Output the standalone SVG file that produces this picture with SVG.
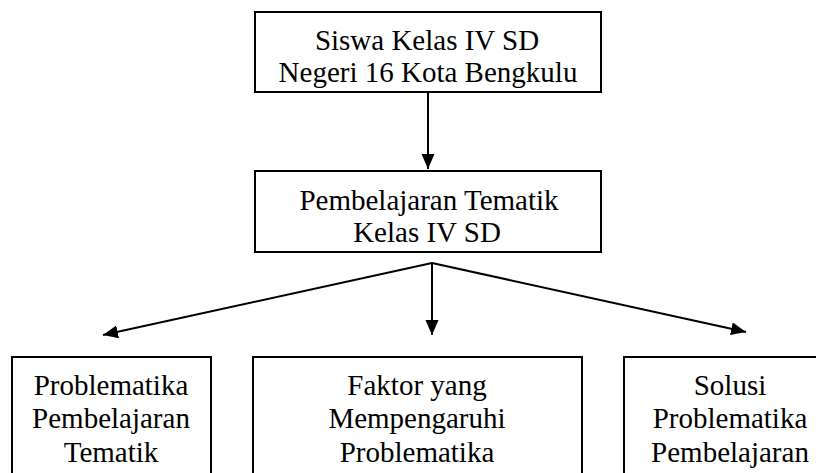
<svg xmlns="http://www.w3.org/2000/svg" width="816" height="473" viewBox="0 0 816 473">
<style>
.box{fill:#fff;stroke:#000;stroke-width:2}
.t{font-family:'Liberation Serif','Tinos','DejaVu Serif',serif;font-size:29px;fill:#000;text-anchor:middle}
.c{stroke:#000;stroke-width:2;fill:none}
</style>
<defs>
<marker id="ah" markerUnits="userSpaceOnUse" markerWidth="16" markerHeight="14" refX="15" refY="6.5" orient="auto">
<path d="M0,0 L15,6.5 L0,13 z" fill="#000"/>
</marker>
<clipPath id="clipTop"><rect x="255" y="12" width="345" height="77"/></clipPath>
</defs>
<rect width="816" height="473" fill="#fff"/>
<g id="connectors">
<line class="c" x1="428" y1="93" x2="428" y2="169" marker-end="url(#ah)"/>
<line class="c" x1="432" y1="263" x2="432" y2="335" marker-end="url(#ah)"/>
<line class="c" x1="432" y1="263" x2="103" y2="335" marker-end="url(#ah)"/>
<line class="c" x1="432" y1="263" x2="746" y2="332" marker-end="url(#ah)"/>
</g>
<g id="node-siswa">
<rect class="box" x="255" y="12" width="346" height="80"/>
<g clip-path="url(#clipTop)">
<text class="t" x="427" y="50">Siswa Kelas IV SD</text>
<text class="t" x="428" y="82">Negeri 16 Kota Bengkulu</text>
</g>
</g>
<g id="node-pembelajaran">
<rect class="box" x="255" y="171" width="346" height="81"/>
<text class="t" x="429" y="210">Pembelajaran Tematik</text>
<text class="t" x="427" y="242">Kelas IV SD</text>
</g>
<g id="node-problematika">
<rect class="box" x="12" y="357" width="199" height="130"/>
<text class="t" x="111" y="395">Problematika</text>
<text class="t" x="111" y="428">Pembelajaran</text>
<text class="t" x="111" y="462">Tematik</text>
</g>
<g id="node-faktor">
<rect class="box" x="253" y="357" width="329" height="130"/>
<text class="t" x="417" y="395">Faktor yang</text>
<text class="t" x="417" y="428">Mempengaruhi</text>
<text class="t" x="417" y="462">Problematika</text>
</g>
<g id="node-solusi">
<rect class="box" x="624" y="357" width="212" height="130"/>
<text class="t" x="730" y="395">Solusi</text>
<text class="t" x="730" y="428">Problematika</text>
<text class="t" x="730" y="462">Pembelajaran</text>
</g>
</svg>
